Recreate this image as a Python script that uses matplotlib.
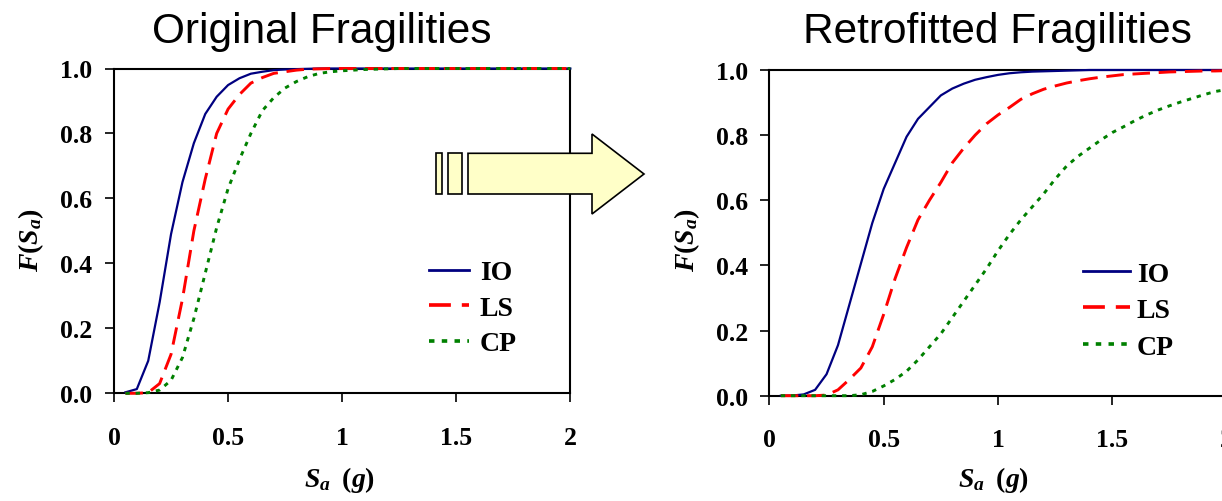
import matplotlib
matplotlib.use("Agg")
import matplotlib.pyplot as plt
from matplotlib.patches import Polygon, Rectangle
import numpy as np

plt.rcParams['mathtext.fontset'] = 'custom'
plt.rcParams['mathtext.it'] = 'Liberation Serif:bold:italic'
plt.rcParams['mathtext.rm'] = 'Liberation Serif:bold'
plt.rcParams['mathtext.bf'] = 'Liberation Serif:bold'

# ---------------- data ----------------
sa = [0.05, 0.10, 0.15, 0.20, 0.25, 0.30, 0.35, 0.40, 0.45, 0.50,
      0.55, 0.60, 0.65, 0.70, 0.75, 0.80, 0.85, 0.90, 0.95, 1.00,
      1.05, 1.10, 1.15, 1.20, 1.25, 1.30, 1.35, 1.40, 1.45, 1.50,
      1.55, 1.60, 1.65, 1.70, 1.75, 1.80, 1.85, 1.90, 1.95, 2.00]

orig_io = [0.003, 0.013, 0.10, 0.28, 0.49, 0.65, 0.77, 0.86, 0.913, 0.949,
           0.970, 0.984, 0.990, 0.995, 0.997, 0.998, 0.999, 1.0, 1.0, 1.0,
           1.0, 1.0, 1.0, 1.0, 1.0, 1.0, 1.0, 1.0, 1.0, 1.0,
           1.0, 1.0, 1.0, 1.0, 1.0, 1.0, 1.0, 1.0, 1.0, 1.0]
orig_ls = [0.0, 0.0, 0.002, 0.03, 0.12, 0.29, 0.50, 0.66, 0.80, 0.875,
           0.92, 0.955, 0.972, 0.985, 0.990, 0.995, 0.998, 0.999, 1.0, 1.0,
           1.0, 1.0, 1.0, 1.0, 1.0, 1.0, 1.0, 1.0, 1.0, 1.0,
           1.0, 1.0, 1.0, 1.0, 1.0, 1.0, 1.0, 1.0, 1.0, 1.0]
orig_cp = [0.0, 0.0, 0.002, 0.01, 0.04, 0.11, 0.23, 0.37, 0.51, 0.63,
           0.72, 0.80, 0.87, 0.91, 0.94, 0.96, 0.975, 0.985, 0.99, 0.993,
           0.995, 0.997, 0.998, 0.999, 1.0, 1.0, 1.0, 1.0, 1.0, 1.0,
           1.0, 1.0, 1.0, 1.0, 1.0, 1.0, 1.0, 1.0, 1.0, 1.0]

retro_io = [0.0, 0.0005, 0.004, 0.018, 0.066, 0.155, 0.28, 0.405, 0.53, 0.635,
            0.715, 0.795, 0.85, 0.886, 0.922, 0.943, 0.958, 0.970, 0.978, 0.985,
            0.990, 0.993, 0.995, 0.996, 0.997, 0.998, 0.999, 1.0, 1.0, 1.0,
            1.0, 1.0, 1.0, 1.0, 1.0, 1.0, 1.0, 1.0, 1.0, 1.0]
retro_ls = [0.0, 0.0, 0.0, 0.0, 0.002, 0.018, 0.05, 0.085, 0.15, 0.25,
            0.36, 0.455, 0.54, 0.60, 0.655, 0.715, 0.76, 0.80, 0.835, 0.862,
            0.885, 0.91, 0.927, 0.941, 0.951, 0.960, 0.967, 0.973, 0.978, 0.982,
            0.986, 0.988, 0.990, 0.992, 0.994, 0.995, 0.996, 0.997, 0.997, 0.998]
retro_cp = [0.0, 0.0, 0.0, 0.0, 0.0, 0.0, 0.0, 0.003, 0.013, 0.03,
            0.05, 0.075, 0.11, 0.15, 0.19, 0.24, 0.29, 0.34, 0.39, 0.445,
            0.495, 0.54, 0.58, 0.62, 0.665, 0.705, 0.735, 0.76, 0.785, 0.808,
            0.826, 0.845, 0.862, 0.877, 0.89, 0.902, 0.913, 0.924, 0.934, 0.94]

labels = ['IO', 'LS', 'CP']
titles = ['Original Fragilities', 'Retrofitted Fragilities']
xticks = [0, 0.5, 1, 1.5, 2]
xticklabels = ['0', '0.5', '1', '1.5', '2']
yticks = [0.0, 0.2, 0.4, 0.6, 0.8, 1.0]
yticklabels = ['0.0', '0.2', '0.4', '0.6', '0.8', '1.0']

# ---------------- figure ----------------
W, H = 1222, 502
fig = plt.figure(figsize=(W / 100, H / 100), dpi=100)

def fx(px):
    return px / W

def fy(py):
    return 1 - py / H

ax1 = fig.add_axes([fx(114), fy(394.3), fx(570.3) - fx(114), fy(69.5) - fy(394.3)])
ax2 = fig.add_axes([fx(769.4), fy(396.7), fx(1226.6) - fx(769.4), fy(71) - fy(396.7)])

styles = [
    dict(color='#000080', lw=1.6, linestyle='-'),
    dict(color='#FF0000', lw=2.1, linestyle=(0, (6.0, 3.0))),
    dict(color='#008000', lw=2.1, linestyle=(0, (1.5, 2.0))),
]

serif = 'Liberation Serif'

for ax, series, title in [(ax1, (orig_io, orig_ls, orig_cp), titles[0]),
                          (ax2, (retro_io, retro_ls, retro_cp), titles[1])]:
    for y, lab, st in zip(series, labels, styles):
        ax.plot(sa, y, label=lab, clip_on=False, zorder=3, **st)
    ax.set_xlim(0, 2)
    ax.set_ylim(0, 1)
    ax.set_xticks(xticks)
    ax.set_xticklabels(xticklabels)
    ax.set_yticks(yticks)
    ax.set_yticklabels(yticklabels)
    for sp in ax.spines.values():
        sp.set_linewidth(1.5)
        sp.set_color('black')
    ax.tick_params(direction='out', length=6.5, width=1.2, colors='black')
    ax.tick_params(axis='y', pad=9)
    ax.tick_params(axis='x', pad=17)
    for t in ax.get_xticklabels() + ax.get_yticklabels():
        t.set_fontfamily(serif)
        t.set_fontweight('bold')
        t.set_fontsize(18.5)
    ax.set_facecolor('white')

leg_prop = dict(family=serif, weight='bold', size=20)
leg1 = ax1.legend(loc='center left', bbox_to_anchor=(0.69, 0.262), frameon=False,
                  borderpad=0, borderaxespad=0, handlelength=1.45, handletextpad=0.38,
                  labelspacing=0.36, prop=leg_prop)
leg2 = ax2.legend(loc='center left', bbox_to_anchor=(0.686, 0.262), frameon=False,
                  borderpad=0, borderaxespad=0, handlelength=1.68, handletextpad=0.25,
                  labelspacing=0.4, prop=leg_prop)
for leg in (leg1, leg2):
    for h in leg.get_lines():
        h.set_linewidth(h.get_linewidth() * 1.25)

# titles
fig.text(fx(322), fy(42.7), titles[0], ha='center', va='baseline',
         family='Liberation Sans', fontsize=30.5)
fig.text(fx(997.5), fy(42.7), titles[1], ha='center', va='baseline',
         family='Liberation Sans', fontsize=30.5)

# axis labels
for cx in (340, 994):
    fig.text(fx(cx), fy(487), r'$S_a\;\;(g)$', ha='center', va='baseline', fontsize=20)
for cx in (31, 687):
    fig.text(fx(cx), fy(240), r'$F(S_a)$', ha='center', va='center', rotation=90,
             fontsize=20)

# arrow decoration
face = '#FFFFC8'
arrow_pts = [(468, 154.3), (592, 154.3), (592, 135), (644, 175), (592, 215),
             (592, 195), (468, 195)]
fig.patches.append(Polygon([(fx(x), fy(y)) for x, y in arrow_pts], closed=True,
                           transform=fig.transFigure, facecolor=face,
                           edgecolor='black', lw=1.2, zorder=10))
for x0, x1 in [(435.7, 442.3), (448.3, 462)]:
    fig.patches.append(Rectangle((fx(x0), fy(195)), fx(x1) - fx(x0), fy(154.3) - fy(195),
                                 transform=fig.transFigure, facecolor=face,
                                 edgecolor='black', lw=1.2, zorder=10))

fig.savefig('out.png', dpi=100)
